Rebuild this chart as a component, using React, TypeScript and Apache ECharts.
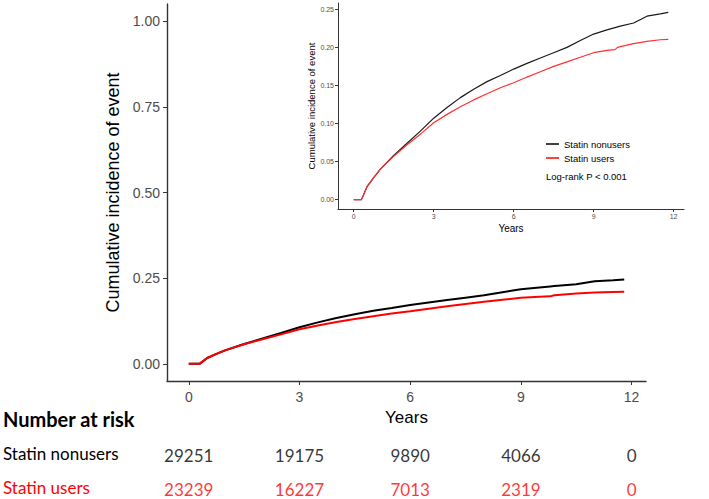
import React, { useEffect, useRef } from "react";
import * as echarts from "echarts";

const years = [0, 0.29, 0.5, 0.75, 1, 1.5, 2, 2.5, 3, 3.5, 4, 4.5, 5, 5.5, 6, 6.5, 7, 7.5, 8, 8.5, 9, 9.5, 9.8, 9.9, 10, 10.5, 11, 11.5, 11.8];
const nonusers = [0, 0, 0.017, 0.029, 0.04, 0.058, 0.074, 0.09, 0.107, 0.121, 0.134, 0.145, 0.155, 0.163, 0.1715, 0.179, 0.186, 0.193, 0.2, 0.209, 0.2175, 0.223, 0.226, 0.227, 0.228, 0.232, 0.241, 0.244, 0.246];
const users = [0, 0, 0.017, 0.029, 0.04, 0.057, 0.072, 0.086, 0.101, 0.112, 0.122, 0.131, 0.139, 0.147, 0.1535, 0.161, 0.168, 0.175, 0.181, 0.187, 0.193, 0.196, 0.197, 0.2, 0.201, 0.205, 0.208, 0.21, 0.2105];

const xTicks = [0, 3, 6, 9, 12];
const mainYTicks = [0, 0.25, 0.5, 0.75, 1];
const insetYTicks = [0, 0.05, 0.1, 0.15, 0.2, 0.25];

const riskTimes = [0, 3, 6, 9, 12];
const nonusersRisk = [29251, 19175, 9890, 4066, 0];
const usersRisk = [23239, 16227, 7013, 2319, 0];

const groupNames = ["Statin nonusers", "Statin users"];

const SANS = "Liberation Sans, Arial, sans-serif";
const TABLE = "Lato, Open Sans, sans-serif";

function pairs(xs: number[], ys: number[]) {
  return xs.map((x, i) => [x, ys[i]]);
}

export default function App() {
  const ref = useRef<HTMLDivElement>(null);
  useEffect(() => {
    if (!ref.current) return;
    const chart = echarts.init(ref.current, undefined, { renderer: "svg" });
    const axisLine = { show: true, onZero: false, lineStyle: { color: "#333", width: 1.4 } };
    const insetLine = { show: true, onZero: false, lineStyle: { color: "#333", width: 1 } };
    chart.setOption({
      animation: false,
      backgroundColor: "#fff",
      grid: [
        { left: 167, right: 63, top: 4, bottom: 118 },
        { left: 338, right: 25, top: 3, bottom: 290 },
        { left: 167, right: 63, top: 455, bottom: 10 },
      ],
      xAxis: [
        {
          gridIndex: 0, type: "value", min: -0.59, max: 12.39,
          name: "Years", nameLocation: "middle", nameGap: 25,
          nameTextStyle: { fontFamily: SANS, fontSize: 17, color: "#000" },
          axisLine, splitLine: { show: false },
          axisTick: { show: true, length: 4, customValues: xTicks, lineStyle: { color: "#333" } },
          axisLabel: { customValues: xTicks, fontFamily: SANS, fontSize: 14, color: "#4D4D4D", margin: 9 },
        },
        {
          gridIndex: 1, type: "value", min: -0.59, max: 12.39,
          name: "Years", nameLocation: "middle", nameGap: 14,
          nameTextStyle: { fontFamily: SANS, fontSize: 10, color: "#000" },
          axisLine: insetLine, splitLine: { show: false },
          axisTick: { show: true, length: 3, customValues: xTicks, lineStyle: { color: "#333" } },
          axisLabel: { customValues: xTicks, fontFamily: SANS, fontSize: 7, color: "#4D4D4D", margin: 4 },
        },
        {
          gridIndex: 2, type: "value", min: -0.59, max: 12.39, show: false,
        },
      ],
      yAxis: [
        {
          gridIndex: 0, type: "value", min: -0.05, max: 1.05,
          name: "Cumulative incidence of event", nameLocation: "middle", nameGap: 37,
          nameTextStyle: { fontFamily: SANS, fontSize: 18, color: "#000" },
          axisLine, splitLine: { show: false },
          axisTick: { show: true, length: 4, customValues: mainYTicks, lineStyle: { color: "#333" } },
          axisLabel: { customValues: mainYTicks, fontFamily: SANS, fontSize: 14, color: "#4D4D4D", margin: 7,
            formatter: (v: number) => v.toFixed(2) },
        },
        {
          gridIndex: 1, type: "value", min: -0.0123, max: 0.2583,
          name: "Cumulative incidence of event", nameLocation: "middle", nameGap: 22,
          nameTextStyle: { fontFamily: SANS, fontSize: 9.5, color: "#000" },
          axisLine: insetLine, splitLine: { show: false },
          axisTick: { show: true, length: 3, customValues: insetYTicks, lineStyle: { color: "#333" } },
          axisLabel: { customValues: insetYTicks, fontFamily: SANS, fontSize: 7, color: "#4D4D4D", margin: 4,
            formatter: (v: number) => v.toFixed(2) },
        },
        { gridIndex: 2, type: "value", min: 0, max: 1, show: false },
      ],
      legend: {
        data: groupNames,
        orient: "vertical",
        left: 541, top: 134,
        itemWidth: 13, itemHeight: 1.5, itemGap: 4,
        icon: "rect",
        textStyle: { fontFamily: SANS, fontSize: 9.5, color: "#000" },
      },
      series: [
        { name: groupNames[0], type: "line", xAxisIndex: 0, yAxisIndex: 0, data: pairs(years, nonusers),
          showSymbol: false, lineStyle: { color: "#000", width: 2 }, itemStyle: { color: "#000" } },
        { name: groupNames[1], type: "line", xAxisIndex: 0, yAxisIndex: 0, data: pairs(years, users),
          showSymbol: false, lineStyle: { color: "#FF0000", width: 2 }, itemStyle: { color: "#FF0000" } },
        { name: groupNames[0], type: "line", xAxisIndex: 1, yAxisIndex: 1, data: pairs(years, nonusers),
          showSymbol: false, lineStyle: { color: "#1a1a1a", width: 1.2 }, itemStyle: { color: "#1a1a1a" } },
        { name: groupNames[1], type: "line", xAxisIndex: 1, yAxisIndex: 1, data: pairs(years, users),
          showSymbol: false, lineStyle: { color: "#FF3030", width: 1.2 }, itemStyle: { color: "#FF3030" } },
        { type: "scatter", xAxisIndex: 2, yAxisIndex: 2, symbolSize: 1, itemStyle: { color: "rgba(0,0,0,0)" },
          data: riskTimes.map((t, i) => [t, 1, nonusersRisk[i]]),
          label: { show: true, position: "inside", formatter: (p: any) => String(p.value[2]),
            fontFamily: TABLE, fontSize: 17, color: "#000" } },
        { type: "scatter", xAxisIndex: 2, yAxisIndex: 2, symbolSize: 1, itemStyle: { color: "rgba(0,0,0,0)" },
          data: riskTimes.map((t, i) => [t, 0, usersRisk[i]]),
          label: { show: true, position: "inside", formatter: (p: any) => String(p.value[2]),
            fontFamily: TABLE, fontSize: 17, color: "#FF0000" } },
      ],
      graphic: [
        { type: "text", left: 3, top: 409, style: { text: "Number at risk", fontFamily: TABLE, fontSize: 20, fontWeight: "bold", fill: "#000" } },
        { type: "text", left: 3, top: 445, style: { text: groupNames[0], fontFamily: TABLE, fontSize: 17, fill: "#000" } },
        { type: "text", left: 3, top: 479, style: { text: groupNames[1], fontFamily: TABLE, fontSize: 17, fill: "#FF0000" } },
        { type: "text", left: 546, top: 171.5, style: { text: "Log-rank P < 0.001", fontFamily: SANS, fontSize: 9.5, fill: "#000" } },
      ],
    });
    return () => chart.dispose();
  }, []);
  return <div ref={ref} style={{ width: 709, height: 499, position: "absolute", left: 0, top: 0 }} />;
}
